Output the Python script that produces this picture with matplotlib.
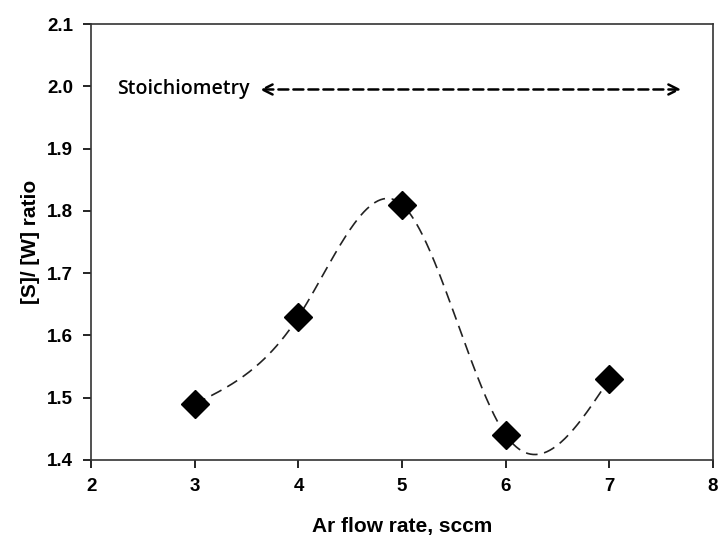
import numpy as np
import matplotlib.pyplot as plt

ar_flow = [3, 4, 5, 6, 7]
sw_ratio = [1.49, 1.63, 1.81, 1.44, 1.53]
x_ticks = [2, 3, 4, 5, 6, 7, 8]
y_ticks = [1.4, 1.5, 1.6, 1.7, 1.8, 1.9, 2.0, 2.1]


def natural_spline(x, y, xs):
    x = np.asarray(x, float)
    y = np.asarray(y, float)
    n = len(x)
    h = np.diff(x)
    A = np.zeros((n, n))
    b = np.zeros(n)
    A[0, 0] = 1
    A[-1, -1] = 1
    for i in range(1, n - 1):
        A[i, i - 1] = h[i - 1]
        A[i, i] = 2 * (h[i - 1] + h[i])
        A[i, i + 1] = h[i]
        b[i] = 3 * ((y[i + 1] - y[i]) / h[i] - (y[i] - y[i - 1]) / h[i - 1])
    c = np.linalg.solve(A, b)
    out = np.empty_like(xs)
    for k, t in enumerate(xs):
        i = min(np.searchsorted(x, t) - 1, n - 2)
        i = max(i, 0)
        dx = t - x[i]
        bi = (y[i + 1] - y[i]) / h[i] - h[i] * (2 * c[i] + c[i + 1]) / 3
        di = (c[i + 1] - c[i]) / (3 * h[i])
        out[k] = y[i] + bi * dx + c[i] * dx ** 2 + di * dx ** 3
    return out


plt.rcParams['font.family'] = ['Liberation Sans', 'DejaVu Sans']

fig = plt.figure(figsize=(7.18, 5.36), dpi=100)
ax = fig.add_axes([0.127, 0.142, 0.866, 0.813])

xs = np.linspace(ar_flow[0], ar_flow[-1], 300)
ax.plot(xs, natural_spline(ar_flow, sw_ratio, xs), color='#222222', lw=1.2,
        dashes=(7, 4))
ax.plot(ar_flow, sw_ratio, 'D', color='black', markersize=14, zorder=3)

ax.annotate('', xy=(3.6, 1.995), xytext=(7.72, 1.995),
            arrowprops=dict(arrowstyle='<->', linestyle=(0, (4, 2)),
                            lw=1.8, color='black', mutation_scale=18))
ax.text(2.25, 1.995, 'Stoichiometry', fontsize=14, family='Open Sans',
        fontweight='semibold', va='center', ha='left')

ax.set_xlim(2, 8)
ax.set_ylim(1.4, 2.1)
ax.set_xticks(x_ticks)
ax.set_yticks(y_ticks)
ax.set_xticklabels([str(v) for v in x_ticks], fontweight='bold', fontsize=13.5)
ax.set_yticklabels(['%.1f' % v for v in y_ticks], fontweight='bold', fontsize=13.5)
ax.tick_params(direction='out', length=6, width=1.2, top=False, right=False,
               pad=7)
for s in ax.spines.values():
    s.set_linewidth(1.2)
    s.set_color('#333333')

ax.set_xlabel('Ar flow rate, sccm', fontweight='bold', fontsize=15, labelpad=16)
ax.set_ylabel('[S]/ [W] ratio', fontweight='bold', fontsize=15, labelpad=5)

fig.savefig('out.png', dpi=100)
